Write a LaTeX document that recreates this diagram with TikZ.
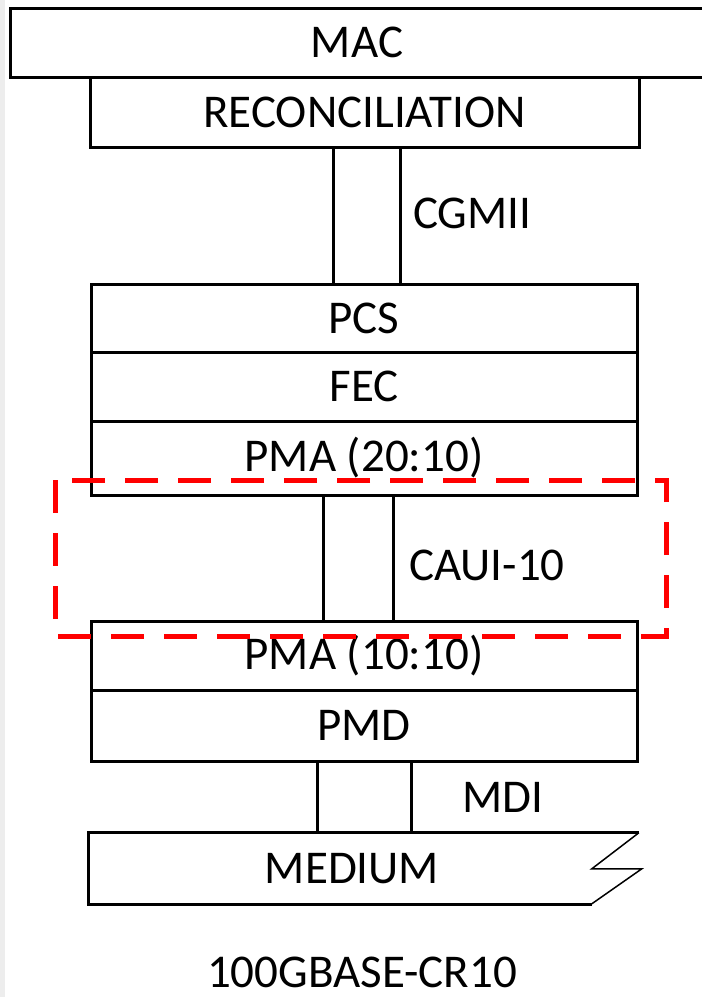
\documentclass[tikz,border=0pt]{standalone}
\usepackage{fontspec}
\setmainfont{Carlito}
\begin{document}
\begin{tikzpicture}[x=1pt,y=-1pt,font=\fontsize{47}{56}\selectfont,
	layer/.style={draw,line width=3pt,inner sep=0pt,minimum width=546pt},
	link/.style={line width=3pt},
	lbl/.style={anchor=west,inner sep=0pt},
	caui/.style={draw=red,line width=5pt,dash pattern=on 33pt off 20pt}]
	\useasboundingbox (0,0) rectangle (702,997);
	\fill[black!7] (0,0) rectangle (5,997);
	% upper stack
	\node[layer,minimum width=694pt,minimum height=69pt] (mac) at (357,42.5) {MAC};
	\node[layer,minimum width=549pt,minimum height=70pt] (recon) at (364.5,112) {RECONCILIATION};
	\foreach \n/\y/\h/\txt in {pcs/318/68/PCS,fec/386.5/69/FEC,pmaa/458/74/PMA (20:10),
		pmab/655.5/69/PMA (10:10),pmd/725.5/71/PMD}{
		\node[layer,minimum height=\h pt] (\n) at (364,\y) {\txt};
	}
	% medium
	\node[inner sep=0pt,minimum width=526pt,minimum height=71pt] (medium) at (352,868.5) {MEDIUM};
	\draw[link] (medium.north west)++(550,0) -- (medium.north west) -- (medium.south west) -- ++(503,0);
	\draw[line width=1.5pt] (medium.north west)++(550,0) -- ++(-47,36) -- ++(50,0) -- ++(-50,35);
	% interfaces
	\foreach \a/\b/\l/\r in {recon/pcs/-31/36,pmaa/pmab/-41/29,pmd/medium/-47/47}{
		\draw[link] ([xshift=\l pt]\a.south) -- ([xshift=\l pt]\a.south |- \b.north);
		\draw[link] ([xshift=\r pt]\a.south) -- ([xshift=\r pt]\a.south |- \b.north);
	}
	\node[lbl] (cgmii) at (413,213) {CGMII};
	\node[lbl] (cauilbl) at (409,565) {CAUI-10};
	\node[lbl] (mdi) at (462,797) {MDI};
	\node (phy) at (362,972) {100GBASE-CR10};
	\draw[caui] (55,480) rectangle (666,636);
\end{tikzpicture}
\end{document}
